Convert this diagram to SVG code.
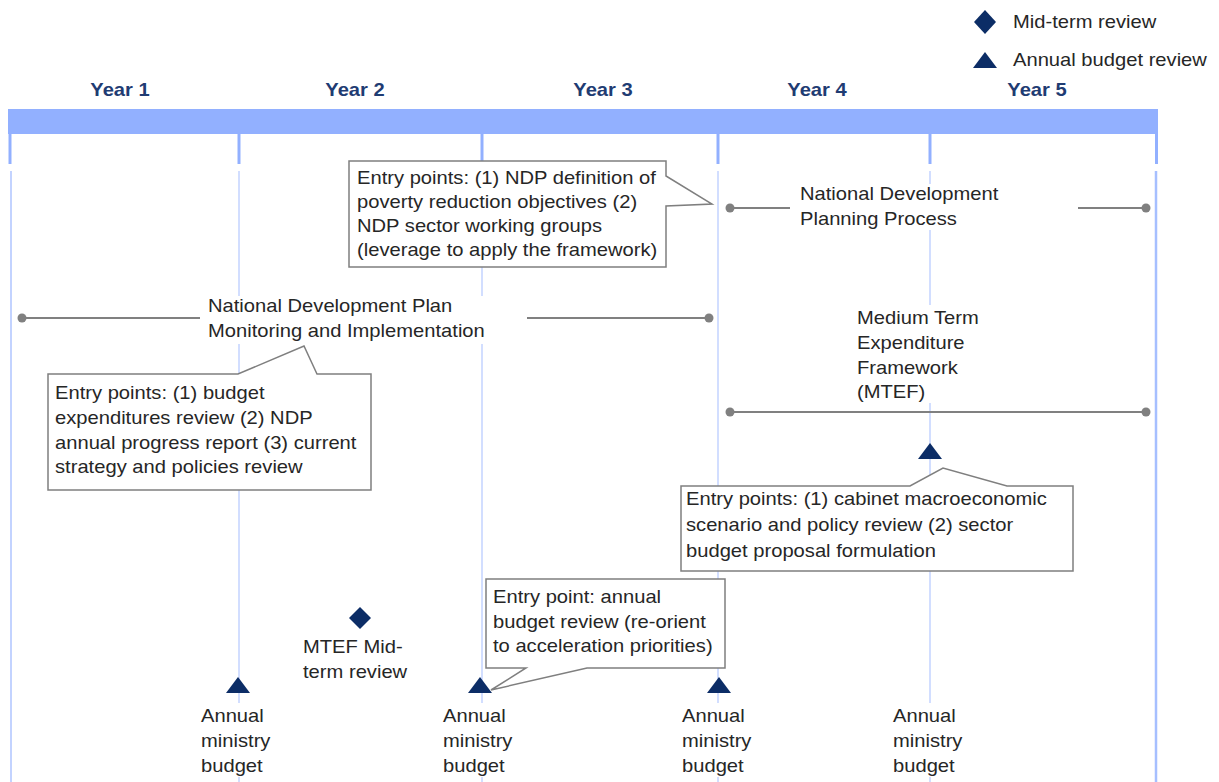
<svg xmlns="http://www.w3.org/2000/svg" width="1219" height="782" viewBox="0 0 1219 782">
<defs>
<style>
.t{font-family:"Liberation Sans",Arial,sans-serif;font-size:18px;fill:#262626}
.yr{font-family:"Liberation Sans",Arial,sans-serif;font-size:18px;font-weight:bold;fill:#1f3c73;text-anchor:middle}
.tick{stroke:#92b0ff;stroke-width:3}
.vl{stroke:#c3d3ff;stroke-width:1.5}
.box{fill:#fff;stroke:#7f7f7f;stroke-width:1.5}
.bg{fill:#fff}
.pl{stroke:#808080;stroke-width:2}
.dot{fill:#808080}
.mk{fill:#0c2d66}
</style>
</defs>
<rect width="1219" height="782" fill="#fff"/>
<g id="timeline">
<rect x="8" y="109" width="1150" height="25" fill="#92b0ff"/>
<line class="tick" x1="10" y1="134" x2="10" y2="164"/>
<line class="tick" x1="239" y1="134" x2="239" y2="164"/>
<line class="tick" x1="482" y1="134" x2="482" y2="164"/>
<line class="tick" x1="718" y1="134" x2="718" y2="164"/>
<line class="tick" x1="930" y1="134" x2="930" y2="164"/>
<line class="tick" x1="1156.5" y1="134" x2="1156.5" y2="164"/>
<line class="vl" x1="11" y1="171" x2="11" y2="782" style="stroke-width:2"/>
<line class="vl" x1="239" y1="171" x2="239" y2="782"/>
<line class="vl" x1="482" y1="171" x2="482" y2="782"/>
<line class="vl" x1="718" y1="171" x2="718" y2="782"/>
<line class="vl" x1="930" y1="171" x2="930" y2="782"/>
<line x1="1156" y1="171" x2="1156" y2="782" stroke="#a6bfff" stroke-width="2.5"/>
<text class="yr" transform="translate(120,96) scale(1.12,1)">Year 1</text>
<text class="yr" transform="translate(355,96) scale(1.12,1)">Year 2</text>
<text class="yr" transform="translate(603,96) scale(1.12,1)">Year 3</text>
<text class="yr" transform="translate(817,96) scale(1.12,1)">Year 4</text>
<text class="yr" transform="translate(1037,96) scale(1.12,1)">Year 5</text>
</g>
<g id="legend">
<polygon class="mk" points="985,10 996,22 985,34 974,22"/>
<text class="t" transform="translate(1013,28) scale(1.12,1)">Mid-term review</text>
<polygon class="mk" points="985,52 997,68 973,68"/>
<text class="t" transform="translate(1013,66) scale(1.12,1)">Annual budget review</text>
</g>
<g id="label-backgrounds">
<rect class="bg" x="793" y="184" width="283" height="46"/>
<rect class="bg" x="203" y="296" width="322" height="48"/>
<rect class="bg" x="850" y="305" width="135" height="98"/>
<rect class="bg" x="198" y="703" width="72" height="74"/>
<rect class="bg" x="440" y="703" width="72" height="74"/>
<rect class="bg" x="679" y="703" width="72" height="74"/>
<rect class="bg" x="890" y="703" width="72" height="74"/>
</g>
<g id="connectors">
<line class="pl" x1="730" y1="208" x2="790" y2="208"/>
<line class="pl" x1="1078" y1="208" x2="1146" y2="208"/>
<circle class="dot" cx="730" cy="208" r="4.5"/>
<circle class="dot" cx="1146" cy="208" r="4.5"/>
<line class="pl" x1="22" y1="318" x2="200" y2="318"/>
<line class="pl" x1="527" y1="318" x2="709" y2="318"/>
<circle class="dot" cx="22" cy="318" r="4.5"/>
<circle class="dot" cx="709" cy="318" r="4.5"/>
<line class="pl" x1="730" y1="412" x2="1146" y2="412"/>
<circle class="dot" cx="730" cy="412" r="4.5"/>
<circle class="dot" cx="1146" cy="412" r="4.5"/>
</g>
<g id="ndpp-callout">
<path class="box" d="M349,161 H666 V176 L712,204 L666,206 V267 H349 Z"/>
<text class="t" transform="translate(357,184) scale(1.12,1)"><tspan x="0" y="0">Entry points: (1) NDP definition of</tspan><tspan x="0" y="24">poverty reduction objectives (2)</tspan><tspan x="0" y="48">NDP sector working groups</tspan><tspan x="0" y="72">(leverage to apply the framework)</tspan></text>
</g>
<g id="ndpp">
<text class="t" transform="translate(800,200) scale(1.12,1)"><tspan x="0" y="0">National Development</tspan><tspan x="0" y="25">Planning Process</tspan></text>
</g>
<g id="ndp-mi">
<text class="t" transform="translate(208,312) scale(1.12,1)"><tspan x="0" y="0">National Development Plan</tspan><tspan x="0" y="25">Monitoring and Implementation</tspan></text>
</g>
<g id="mi-callout">
<path class="box" d="M48,374 H238 L304,346 L317,374 H371 V490 H48 Z"/>
<text class="t" transform="translate(55,399) scale(1.12,1)"><tspan x="0" y="0">Entry points: (1) budget</tspan><tspan x="0" y="25">expenditures review (2) NDP</tspan><tspan x="0" y="50">annual progress report (3) current</tspan><tspan x="0" y="74">strategy and policies review</tspan></text>
</g>
<g id="mtef">
<text class="t" transform="translate(857,324) scale(1.12,1)"><tspan x="0" y="0">Medium Term</tspan><tspan x="0" y="25">Expenditure</tspan><tspan x="0" y="50">Framework</tspan><tspan x="0" y="74">(MTEF)</tspan></text>
</g>
<g id="mtef-review">
<polygon class="mk" points="930,443 942,459 918,459"/>
</g>
<g id="mtef-callout">
<path class="box" d="M681,486 H910 L943,468 L1007,486 H1073 V571 H681 Z"/>
<text class="t" transform="translate(686,505) scale(1.12,1)"><tspan x="0" y="0">Entry points: (1) cabinet macroeconomic</tspan><tspan x="0" y="26">scenario and policy review (2) sector</tspan><tspan x="0" y="52">budget proposal formulation</tspan></text>
</g>
<g id="midterm">
<polygon class="mk" points="360,607 371,618 360,629 349,618"/>
<text class="t" transform="translate(303,653) scale(1.12,1)"><tspan x="0" y="0">MTEF Mid-</tspan><tspan x="0" y="25">term review</tspan></text>
</g>
<g id="annual-callout">
<path class="box" d="M486,579 H725 V668 H587 L491,690 L526,668 H486 Z"/>
<text class="t" transform="translate(493,603) scale(1.12,1)"><tspan x="0" y="0">Entry point: annual</tspan><tspan x="0" y="25">budget review (re-orient</tspan><tspan x="0" y="49">to acceleration priorities)</tspan></text>
</g>
<g id="budget-1">
<polygon class="mk" points="238,677 250,693 226,693"/>
<text class="t" transform="translate(201,722) scale(1.12,1)"><tspan x="0" y="0">Annual</tspan><tspan x="0" y="25">ministry</tspan><tspan x="0" y="50">budget</tspan></text>
</g>
<g id="budget-2">
<polygon class="mk" points="480,677 492,693 468,693"/>
<text class="t" transform="translate(443,722) scale(1.12,1)"><tspan x="0" y="0">Annual</tspan><tspan x="0" y="25">ministry</tspan><tspan x="0" y="50">budget</tspan></text>
</g>
<g id="budget-3">
<polygon class="mk" points="719,677 731,693 707,693"/>
<text class="t" transform="translate(682,722) scale(1.12,1)"><tspan x="0" y="0">Annual</tspan><tspan x="0" y="25">ministry</tspan><tspan x="0" y="50">budget</tspan></text>
</g>
<g id="budget-4">
<text class="t" transform="translate(893,722) scale(1.12,1)"><tspan x="0" y="0">Annual</tspan><tspan x="0" y="25">ministry</tspan><tspan x="0" y="50">budget</tspan></text>
</g>
</svg>
